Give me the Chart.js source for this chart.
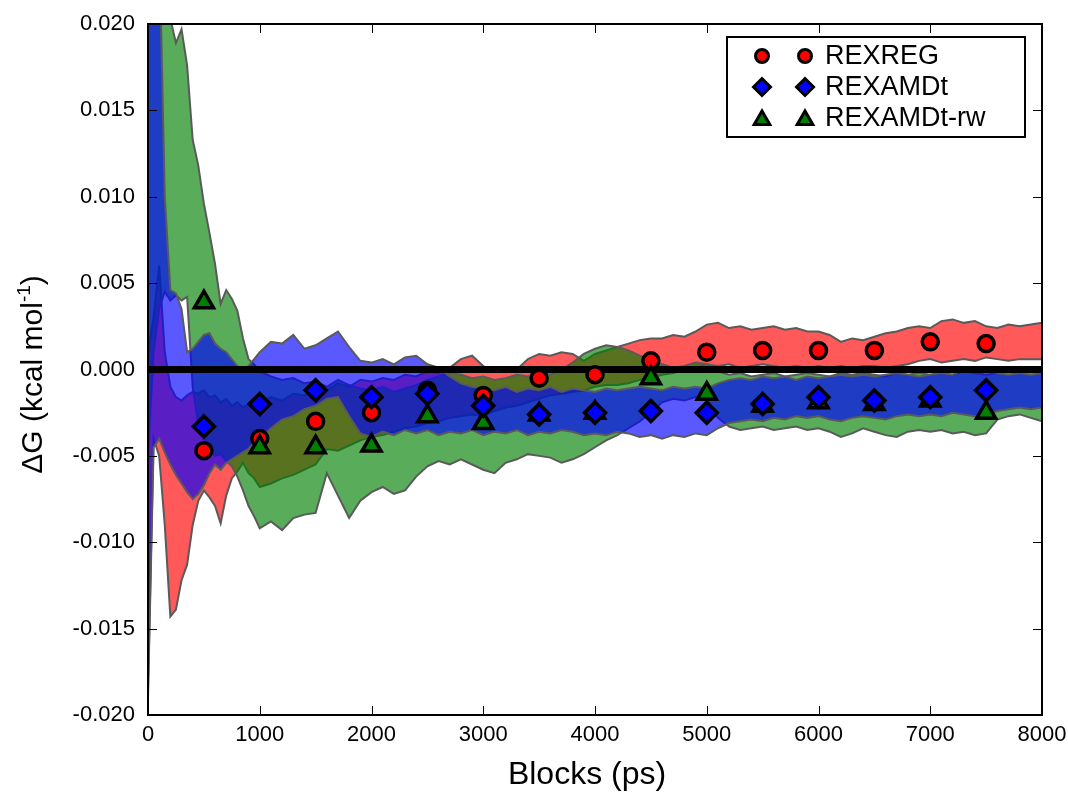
<!DOCTYPE html>
<html>
<head>
<meta charset="utf-8">
<script src="https://cdn.jsdelivr.net/npm/chart.js@4.4.0/dist/chart.umd.min.js"></script>
<style>
  body { margin: 0; background: #fff; }
  #wrap { width: 1068px; height: 797px; position: relative; }
</style>
</head>
<body>
<div id="wrap"><canvas id="dgChart"></canvas></div>
<script>
// x positions of the running-average bands (ps)
const blocks = [0, 50, 100, 150, 200, 250, 300, 350, 400, 450, 500, 550, 600, 650, 700, 750, 800, 850, 900, 950, 1000,
  1100, 1200, 1300, 1400, 1500, 1600, 1700, 1800, 1900, 2000,
  2100, 2200, 2300, 2400, 2500, 2600, 2700, 2800, 2900, 3000,
  3100, 3200, 3300, 3400, 3500, 3600, 3700, 3800, 3900, 4000,
  4100, 4200, 4300, 4400, 4500, 4600, 4700, 4800, 4900, 5000,
  5100, 5200, 5300, 5400, 5500, 5600, 5700, 5800, 5900, 6000,
  6100, 6200, 6300, 6400, 6500, 6600, 6700, 6800, 6900, 7000,
  7100, 7200, 7300, 7400, 7500, 7600, 7700, 7800, 7900, 8000];

// REXREG band
const rexregHi = [0.0010, 0.0030, 0.0060, 0.0010, -0.0010, -0.0016, -0.0018, -0.0015, -0.0013, -0.0014, -0.0012, -0.0016, -0.0015, -0.0019, -0.0017, -0.0021, -0.0019, -0.0022, -0.0020, -0.0018, -0.0019,
  -0.0016, -0.0018, -0.0014, -0.0015, -0.0011, -0.0012, -0.0008, -0.0010, -0.0006, -0.0007,
  -0.0005, -0.0006, -0.0003, -0.0004, -0.0001, -0.0002, 0.0001, 0.0006, 0.0008, 0.0002,
  -0.0001, 0.0001, 0.0000, 0.0006, 0.0009, 0.0008, 0.0010, 0.0009, 0.0005, 0.0009,
  0.0011, 0.0013, 0.0015, 0.0017, 0.0018, 0.0018, 0.0020, 0.0019, 0.0022, 0.0026,
  0.0027, 0.0024, 0.0025, 0.0023, 0.0024, 0.0025, 0.0023, 0.0024, 0.0022, 0.0022,
  0.0020, 0.0016, 0.0018, 0.0017, 0.0019, 0.0021, 0.0022, 0.0024, 0.0025, 0.0024,
  0.0028, 0.0029, 0.0027, 0.0028, 0.0025, 0.0024, 0.0026, 0.0025, 0.0026, 0.0027];
const rexregLo = [-0.0185, -0.0040, -0.0050, -0.0090, -0.0143, -0.0139, -0.0122, -0.0113, -0.0090, -0.0076, -0.0070, -0.0074, -0.0079, -0.0089, -0.0073, -0.0063, -0.0059, -0.0054, -0.0060, -0.0063, -0.0068,
  -0.0066, -0.0063, -0.0061, -0.0058, -0.0055, -0.0046, -0.0047, -0.0044, -0.0041, -0.0039,
  -0.0038, -0.0036, -0.0034, -0.0033, -0.0031, -0.0030, -0.0028, -0.0027, -0.0026, -0.0027,
  -0.0024, -0.0022, -0.0021, -0.0019, -0.0017, -0.0015, -0.0014, -0.0013, -0.0012, -0.0010,
  -0.0009, -0.0009, -0.0008, -0.0006, -0.0005, -0.0003, -0.0002, 0.0000, 0.0001, 0.0003,
  0.0002, 0.0003, 0.0001, 0.0002, 0.0003, 0.0002, 0.0001, 0.0002, 0.0001, 0.0002,
  0.0001, 0.0002, 0.0001, 0.0002, 0.0002, 0.0001, 0.0002, 0.0003, 0.0005, 0.0006,
  0.0004, 0.0005, 0.0006, 0.0005, 0.0007, 0.0006, 0.0005, 0.0006, 0.0006, 0.0006];

// REXAMDt band
const amdHi = [0.0300, 0.0300, 0.0250, 0.0100, 0.0046, 0.0044, 0.0035, 0.0010, 0.0012, 0.0016, 0.0020, 0.0021, 0.0015, 0.0012, 0.0010, 0.0006, 0.0002, 0.0000, 0.0002, 0.0006, 0.0010,
  0.0016, 0.0015, 0.0020, 0.0012, 0.0014, 0.0018, 0.0022, 0.0013, 0.0005, 0.0004,
  0.0006, 0.0003, 0.0007, 0.0008, 0.0003, 0.0001, -0.0004, -0.0008, -0.0010, -0.0011,
  -0.0012, -0.0010, -0.0013, -0.0011, -0.0012, -0.0010, -0.0013, -0.0011, -0.0012, -0.0013,
  -0.0011, -0.0012, -0.0011, -0.0010, -0.0011, -0.0012, -0.0010, -0.0011, -0.0010, -0.0011,
  -0.0008, -0.0006, -0.0005, -0.0006, -0.0004, -0.0005, -0.0004, -0.0006, -0.0004, -0.0005,
  -0.0004, -0.0003, -0.0004, -0.0003, -0.0004, -0.0003, -0.0002, -0.0003, -0.0004, -0.0003,
  -0.0002, -0.0003, 0.0000, 0.0001, 0.0000, -0.0002, -0.0003, -0.0002, -0.0003, -0.0002];
const amdLo = [-0.0190, -0.0045, -0.0040, -0.0048, -0.0055, -0.0061, -0.0066, -0.0071, -0.0075, -0.0072, -0.0067, -0.0060, -0.0055, -0.0058, -0.0054, -0.0052, -0.0050, -0.0048, -0.0046, -0.0042, -0.0040,
  -0.0034, -0.0029, -0.0027, -0.0023, -0.0021, -0.0017, -0.0016, -0.0027, -0.0037, -0.0039,
  -0.0036, -0.0038, -0.0035, -0.0037, -0.0035, -0.0038, -0.0036, -0.0037, -0.0035, -0.0038,
  -0.0036, -0.0037, -0.0035, -0.0038, -0.0036, -0.0037, -0.0035, -0.0036, -0.0038, -0.0037,
  -0.0038, -0.0036, -0.0037, -0.0039, -0.0038, -0.0040, -0.0038, -0.0039, -0.0037, -0.0038,
  -0.0034, -0.0031, -0.0030, -0.0029, -0.0030, -0.0028, -0.0029, -0.0027, -0.0028, -0.0027,
  -0.0029, -0.0030, -0.0028, -0.0027, -0.0028, -0.0029, -0.0027, -0.0026, -0.0027, -0.0026,
  -0.0027, -0.0025, -0.0026, -0.0027, -0.0026, -0.0024, -0.0023, -0.0022, -0.0023, -0.0022];

// REXAMDt-rw band
const rwHi = [0.0300, 0.0300, 0.0300, 0.0300, 0.0203, 0.0189, 0.0197, 0.0176, 0.0133, 0.0118, 0.0096, 0.0079, 0.0061, 0.0038, 0.0046, 0.0041, 0.0034, 0.0018, 0.0006, 0.0003, -0.0001,
  -0.0004, -0.0006, -0.0005, -0.0008, -0.0007, -0.0010, -0.0006, -0.0009, -0.0011, -0.0012,
  -0.0010, -0.0013, -0.0011, -0.0009, -0.0006, -0.0004, -0.0002, -0.0003, -0.0005, -0.0004,
  -0.0006, -0.0005, -0.0003, -0.0004, -0.0002, -0.0003, 0.0000, 0.0004, 0.0009, 0.0012,
  0.0014, 0.0013, 0.0011, 0.0008, 0.0006, 0.0003, 0.0001, 0.0002, 0.0004, 0.0003,
  -0.0001, -0.0003, -0.0002, -0.0004, -0.0003, -0.0002, -0.0004, -0.0003, -0.0002, -0.0003,
  -0.0004, -0.0002, -0.0003, -0.0002, -0.0003, -0.0004, -0.0002, -0.0003, -0.0002, -0.0003,
  -0.0002, -0.0003, -0.0001, -0.0002, -0.0003, -0.0002, -0.0001, -0.0002, -0.0001, -0.0001];
const rwLo = [-0.0050, 0.0010, 0.0035, 0.0045, 0.0040, 0.0043, 0.0040, 0.0042, -0.0010, -0.0032, -0.0040, -0.0046, -0.0050, -0.0049, -0.0053, -0.0056, -0.0062, -0.0070, -0.0079, -0.0085, -0.0092,
  -0.0088, -0.0093, -0.0086, -0.0084, -0.0083, -0.0060, -0.0073, -0.0086, -0.0076, -0.0071,
  -0.0068, -0.0072, -0.0070, -0.0062, -0.0056, -0.0053, -0.0055, -0.0052, -0.0055, -0.0058,
  -0.0060, -0.0054, -0.0052, -0.0049, -0.0050, -0.0051, -0.0054, -0.0052, -0.0049, -0.0045,
  -0.0041, -0.0038, -0.0034, -0.0030, -0.0025, -0.0019, -0.0017, -0.0018, -0.0016, -0.0018,
  -0.0028, -0.0033, -0.0035, -0.0034, -0.0033, -0.0035, -0.0034, -0.0033, -0.0035, -0.0034,
  -0.0036, -0.0039, -0.0037, -0.0034, -0.0036, -0.0038, -0.0039, -0.0036, -0.0035, -0.0036,
  -0.0035, -0.0037, -0.0036, -0.0038, -0.0037, -0.0029, -0.0027, -0.0026, -0.0028, -0.0030];

// block estimates shown as markers
const markerBlocks = [500, 1000, 1500, 2000, 2500, 3000, 3500, 4000, 4500, 5000, 5500, 6000, 6500, 7000, 7500];
const rexreg = [-0.0047, -0.0040, -0.0030, -0.0025, -0.0012, -0.0015, -0.0005, -0.0003, 0.0005, 0.0010, 0.0011, 0.0011, 0.0011, 0.0016, 0.0015];
const rexamdt = [-0.0033, -0.0020, -0.0012, -0.0016, -0.0014, -0.0021, -0.0026, -0.0025, -0.0024, -0.0025, -0.0020, -0.0016, -0.0018, -0.0016, -0.0012];
const rexamdtRw = [0.0039, -0.0045, -0.0045, -0.0044, -0.0027, -0.0031, -0.0026, -0.0025, -0.0005, -0.0014, -0.0021, -0.0019, -0.0020, -0.0018, -0.0025];

const xRange = [0, 8000];
const zeroLine = [0, 0];
const xTicks = [0, 1000, 2000, 3000, 4000, 5000, 6000, 7000, 8000];
const yTicks = [-0.020, -0.015, -0.010, -0.005, 0.000, 0.005, 0.010, 0.015, 0.020];

const FONT = '"Liberation Sans", Arial, Helvetica, sans-serif';
const edgeGray = '#5a5a5a';

const pts = (xs, ys) => xs.map((x, i) => ({ x: x, y: ys[i] }));

function band(lo, hi, fillColor, order) {
    return [
        { data: pts(blocks, lo), borderColor: edgeGray, borderWidth: 2, pointRadius: 0, pointHitRadius: 0, fill: false, order: order, clip: 0 },
        { data: pts(blocks, hi), borderColor: edgeGray, borderWidth: 2, pointRadius: 0, pointHitRadius: 0, fill: '-1', backgroundColor: fillColor, order: order, clip: 0 },
    ];
}

function markers(ys, style, color, radius, order) {
    return {
        data: pts(markerBlocks, ys), showLine: false, pointStyle: style, pointRadius: radius,
        pointBackgroundColor: color, pointBorderColor: '#000', pointBorderWidth: 3.5, order: order, clip: false,
    };
}

const legendItems = [
    { text: 'REXREG', style: 'circle', color: '#ff0000', radius: 6.5 },
    { text: 'REXAMDt', style: 'rectRot', color: '#0000ff', radius: 8.5 },
    { text: 'REXAMDt-rw', style: 'triangle', color: '#008000', radius: 9 },
];

// frame, inward ticks, axis titles and the two-marker legend
const decorations = {
    id: 'decorations',
    afterDraw(chart) {
        const ctx = chart.ctx;
        const a = chart.chartArea;
        const xs = chart.scales.x, ys = chart.scales.y;
        ctx.save();

        ctx.strokeStyle = '#000';
        ctx.lineWidth = 1;
        ctx.beginPath();
        xTicks.forEach(v => {
            const px = Math.round(xs.getPixelForValue(v)) + 0.5;
            ctx.moveTo(px, a.bottom); ctx.lineTo(px, a.bottom - 9);
            ctx.moveTo(px, a.top); ctx.lineTo(px, a.top + 9);
        });
        yTicks.forEach(v => {
            const py = Math.round(ys.getPixelForValue(v)) + 0.5;
            ctx.moveTo(a.left, py); ctx.lineTo(a.left + 9, py);
            ctx.moveTo(a.right, py); ctx.lineTo(a.right - 9, py);
        });
        ctx.stroke();

        ctx.lineWidth = 2;
        ctx.strokeRect(a.left, a.top, a.right - a.left, a.bottom - a.top);

        // x title
        ctx.fillStyle = '#000';
        ctx.font = '32px ' + FONT;
        ctx.textAlign = 'center';
        ctx.textBaseline = 'middle';
        ctx.fillText('Blocks (ps)', (a.left + a.right) / 2 - 8, 775);

        // y title with superscript
        const main = 'ΔG (kcal mol', sup = '-1', close = ')';
        ctx.save();
        ctx.translate(34, (a.top + a.bottom) / 2 + 5);
        ctx.rotate(-Math.PI / 2);
        ctx.textAlign = 'left';
        ctx.font = '30px ' + FONT;
        const w1 = ctx.measureText(main).width, w3 = ctx.measureText(close).width;
        ctx.font = '19px ' + FONT;
        const w2 = ctx.measureText(sup).width;
        let x0 = -(w1 + w2 + w3) / 2;
        ctx.font = '30px ' + FONT;
        ctx.fillText(main, x0, 0);
        ctx.font = '19px ' + FONT;
        ctx.fillText(sup, x0 + w1, -9);
        ctx.font = '30px ' + FONT;
        ctx.fillText(close, x0 + w1 + w2, 0);
        ctx.restore();

        // legend
        const lw = 298, lh = 100;
        const lx = a.right - 17 - lw, ly = a.top + 13;
        ctx.fillStyle = '#fff';
        ctx.fillRect(lx, ly, lw, lh);
        ctx.strokeStyle = '#000';
        ctx.lineWidth = 2;
        ctx.strokeRect(lx, ly, lw, lh);
        ctx.font = '27px ' + FONT;
        ctx.textAlign = 'left';
        ctx.textBaseline = 'middle';
        legendItems.forEach((it, i) => {
            const cy = ly + 19 + i * 31;
            const opts = { pointStyle: it.style, radius: it.radius, borderWidth: 3, rotation: 0 };
            [35, 78].forEach(dx => {
                ctx.fillStyle = it.color;
                ctx.strokeStyle = '#000';
                ctx.lineWidth = 3;
                Chart.helpers.drawPoint(ctx, opts, lx + dx, cy + (it.style === 'triangle' ? 2 : 0));
            });
            ctx.fillStyle = '#000';
            ctx.fillText(it.text, lx + 98, cy + 1);
        });

        ctx.restore();
    }
};

const datasets = [
    ...band(rexregLo, rexregHi, 'rgba(255,0,0,0.65)', 10),
    ...band(rwLo, rwHi, 'rgba(0,128,0,0.65)', 9),
    ...band(amdLo, amdHi, 'rgba(0,0,255,0.65)', 8),
    { data: pts(xRange, zeroLine), borderColor: '#000', borderWidth: 7, pointRadius: 0, fill: false, order: 5, clip: 0 },
    markers(rexreg, 'circle', '#ff0000', 8, 3),
    markers(rexamdtRw, 'triangle', '#008000', 11, 2),
    markers(rexamdt, 'rectRot', '#0000ff', 10.5, 1),
];

new Chart(document.getElementById('dgChart'), {
    type: 'line',
    data: { datasets: datasets },
    plugins: [decorations],
    options: {
        responsive: true,
        maintainAspectRatio: false,
        animation: false,
        layout: { padding: { top: 24, right: 26, left: 0, bottom: 0 } },
        plugins: { legend: { display: false }, tooltip: { enabled: false } },
        elements: { line: { tension: 0 } },
        scales: {
            x: {
                type: 'linear', min: xRange[0], max: xRange[1],
                grid: { display: false, drawTicks: false },
                border: { display: false },
                ticks: {
                    stepSize: 1000, padding: 7, maxRotation: 0, autoSkip: false, color: '#000', font: { family: FONT, size: 22 },
                    callback: v => String(v),
                },
                afterFit: s => { s.height = 82; s.paddingLeft = 0; s.paddingRight = 0; },
            },
            y: {
                min: yTicks[0], max: yTicks[yTicks.length - 1],
                grid: { display: false, drawTicks: false },
                border: { display: false },
                ticks: {
                    stepSize: 0.005, padding: 13, autoSkip: false, color: '#000', font: { family: FONT, size: 22 },
                    callback: v => Math.abs(v) < 1e-9 ? '0.000' : v.toFixed(3),
                },
                afterFit: s => { s.width = 148; s.paddingTop = 0; s.paddingBottom = 0; },
            },
        },
    },
});
</script>
</body>
</html>
